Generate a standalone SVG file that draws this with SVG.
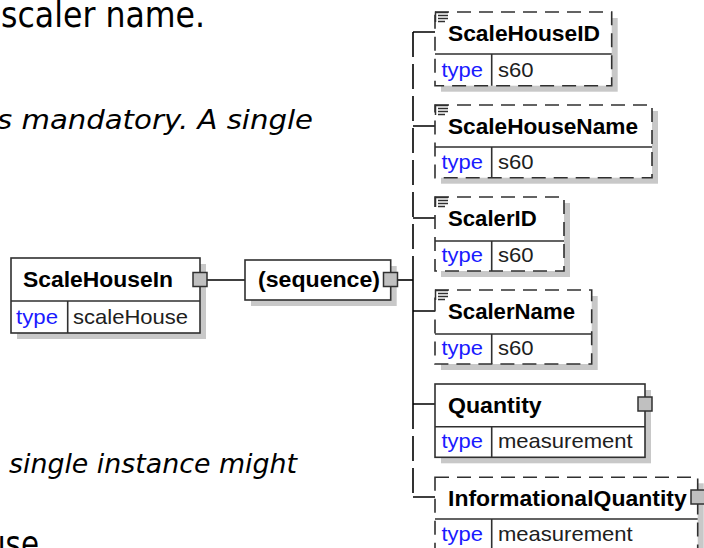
<svg xmlns="http://www.w3.org/2000/svg" width="704" height="548" viewBox="0 0 704 548">
<style>
.bg{fill:#fff}
.shadow{fill:#c8c8c8}
.box{fill:#fff;stroke:#303030;stroke-width:1.6}
.opt{stroke-dasharray:14 8}
.div{stroke:#303030;stroke-width:1.6;fill:none}
.btn{fill:#c0c0c0;stroke:#303030;stroke-width:1.5}
.conn{stroke:#000;stroke-width:1.6;fill:none}
.dash{stroke-dasharray:25 7}
.icon{stroke:#303030;stroke-width:1.5;fill:none}
.title{font-family:"Liberation Sans",Arial,sans-serif;font-weight:bold;font-size:22px;fill:#000}
.tk{font-family:"Liberation Sans",Arial,sans-serif;font-size:21px;fill:#1a1aff}
.tv{font-family:"Liberation Sans",Arial,sans-serif;font-size:21px;fill:#202020}
.doc{font-family:"DejaVu Sans Condensed","DejaVu Sans",sans-serif;font-size:35px;fill:#000}
.doci{font-family:"DejaVu Sans",sans-serif;font-style:italic;font-size:27px;fill:#000}
</style>
<rect class="bg" x="0" y="0" width="704" height="548"/>

<g id="doc-text">
<text class="doc" x="1" y="27" textLength="204" lengthAdjust="spacingAndGlyphs">scaler name.</text>
<text class="doci" x="-3" y="129" textLength="316" lengthAdjust="spacingAndGlyphs">s mandatory. A single</text>
<text class="doci" x="9" y="473" textLength="288" lengthAdjust="spacingAndGlyphs">single instance might</text>
<text class="doc" x="-13" y="556" textLength="52" lengthAdjust="spacingAndGlyphs">use</text>
</g>

<g id="connectors">
<path class="conn" d="M207 280 H245"/>
<path class="conn" d="M397 280 H413"/>
<path class="conn dash" d="M413 32 V256"/>
<path class="conn" d="M413 256 V404"/>
<path class="conn dash" d="M413 404 V497"/>
<path class="conn" d="M413 32 H435 M413 126 H435 M413 218 H435 M413 311 H435 M413 404 H435 M413 497 H435"/>
</g>

<g id="ScaleHouseIn">
<rect class="shadow" x="17" y="264" width="189" height="75"/>
<rect class="box" x="11" y="258" width="189" height="75"/>
<path class="div" d="M11 301 H200 M67.7 301 V333"/>
<text class="title" x="23" y="287" textLength="150" lengthAdjust="spacingAndGlyphs">ScaleHouseIn</text>
<text class="tk" x="16" y="324" textLength="42" lengthAdjust="spacingAndGlyphs">type</text>
<text class="tv" x="73" y="324" textLength="115" lengthAdjust="spacingAndGlyphs">scaleHouse</text>
<rect class="btn" x="193" y="272.5" width="14" height="14"/>
</g>

<g id="sequence">
<rect class="shadow" x="251" y="266" width="145.7" height="40"/>
<rect class="box" x="245" y="260" width="145.7" height="40"/>
<text class="title" x="258" y="287" textLength="122" lengthAdjust="spacingAndGlyphs">(sequence)</text>
<rect class="btn" x="383.5" y="272.5" width="14" height="14"/>
</g>

<g id="ScaleHouseID">
<rect class="shadow" x="441" y="18" width="176.7" height="73.7"/>
<rect class="box opt" x="435" y="12" width="176.7" height="73.7"/>
<path class="div" d="M435 54 H611.7 M491.7 54 V85.7"/>
<path class="icon" d="M435.5 11.5 V22 M436 12.5 H448 M438 15.5 H448 M438 18.5 H448 M438 21.5 H445"/>
<text class="title" x="448" y="41" textLength="152" lengthAdjust="spacingAndGlyphs">ScaleHouseID</text>
<text class="tk" x="441.5" y="76.7" textLength="41.5" lengthAdjust="spacingAndGlyphs">type</text>
<text class="tv" x="498" y="76.7" textLength="35.6" lengthAdjust="spacingAndGlyphs">s60</text>
</g>

<g id="ScaleHouseName">
<rect class="shadow" x="441" y="111" width="217" height="72.7"/>
<rect class="box opt" x="435" y="105" width="217" height="72.7"/>
<path class="div" d="M435 147 H652 M491.7 147 V177.7"/>
<path class="icon" d="M435.5 104.5 V115 M436 105.5 H448 M438 108.5 H448 M438 111.5 H448 M438 114.5 H445"/>
<text class="title" x="448" y="134" textLength="190" lengthAdjust="spacingAndGlyphs">ScaleHouseName</text>
<text class="tk" x="441.5" y="168.7" textLength="41.5" lengthAdjust="spacingAndGlyphs">type</text>
<text class="tv" x="498" y="168.7" textLength="35.6" lengthAdjust="spacingAndGlyphs">s60</text>
</g>

<g id="ScalerID">
<rect class="shadow" x="441" y="203" width="129" height="74"/>
<rect class="box opt" x="435" y="197" width="129" height="74"/>
<path class="div" d="M435 241 H564 M491.7 241 V271"/>
<path class="icon" d="M435.5 196.5 V207 M436 197.5 H448 M438 200.5 H448 M438 203.5 H448 M438 206.5 H445"/>
<text class="title" x="448" y="226" textLength="88.7" lengthAdjust="spacingAndGlyphs">ScalerID</text>
<text class="tk" x="441.5" y="262" textLength="41.5" lengthAdjust="spacingAndGlyphs">type</text>
<text class="tv" x="498" y="262" textLength="35.6" lengthAdjust="spacingAndGlyphs">s60</text>
</g>

<g id="ScalerName">
<rect class="shadow" x="441" y="296" width="156.7" height="74"/>
<rect class="box opt" x="435" y="290" width="156.7" height="74"/>
<path class="div" d="M435 334 H591.7 M491.7 334 V364"/>
<path class="icon" d="M435.5 289.5 V300 M436 290.5 H448 M438 293.5 H448 M438 296.5 H448 M438 299.5 H445"/>
<text class="title" x="448" y="319" textLength="127" lengthAdjust="spacingAndGlyphs">ScalerName</text>
<text class="tk" x="441.5" y="355" textLength="41.5" lengthAdjust="spacingAndGlyphs">type</text>
<text class="tv" x="498" y="355" textLength="35.6" lengthAdjust="spacingAndGlyphs">s60</text>
</g>

<g id="Quantity">
<rect class="shadow" x="441" y="390" width="210" height="73.3"/>
<rect class="box" x="435" y="384" width="210" height="73.3"/>
<path class="div" d="M435 426.7 H645 M491.7 426.7 V457.3"/>
<text class="title" x="448" y="413" textLength="93.7" lengthAdjust="spacingAndGlyphs">Quantity</text>
<text class="tk" x="441.5" y="448.3" textLength="41.5" lengthAdjust="spacingAndGlyphs">type</text>
<text class="tv" x="498" y="448.3" textLength="134.6" lengthAdjust="spacingAndGlyphs">measurement</text>
<rect class="btn" x="638" y="397" width="14" height="14"/>
</g>

<g id="InformationalQuantity">
<rect class="shadow" x="441" y="483.3" width="262.7" height="74"/>
<rect class="box opt" x="435" y="477.3" width="262.7" height="74"/>
<path class="div" d="M435 519 H697.7 M491.7 519 V551"/>
<text class="title" x="448" y="506.3" textLength="238.7" lengthAdjust="spacingAndGlyphs">InformationalQuantity</text>
<text class="tk" x="441.5" y="541" textLength="41.5" lengthAdjust="spacingAndGlyphs">type</text>
<text class="tv" x="498" y="541" textLength="134.6" lengthAdjust="spacingAndGlyphs">measurement</text>
<rect class="btn" x="691" y="490" width="14" height="14"/>
</g>
</svg>
